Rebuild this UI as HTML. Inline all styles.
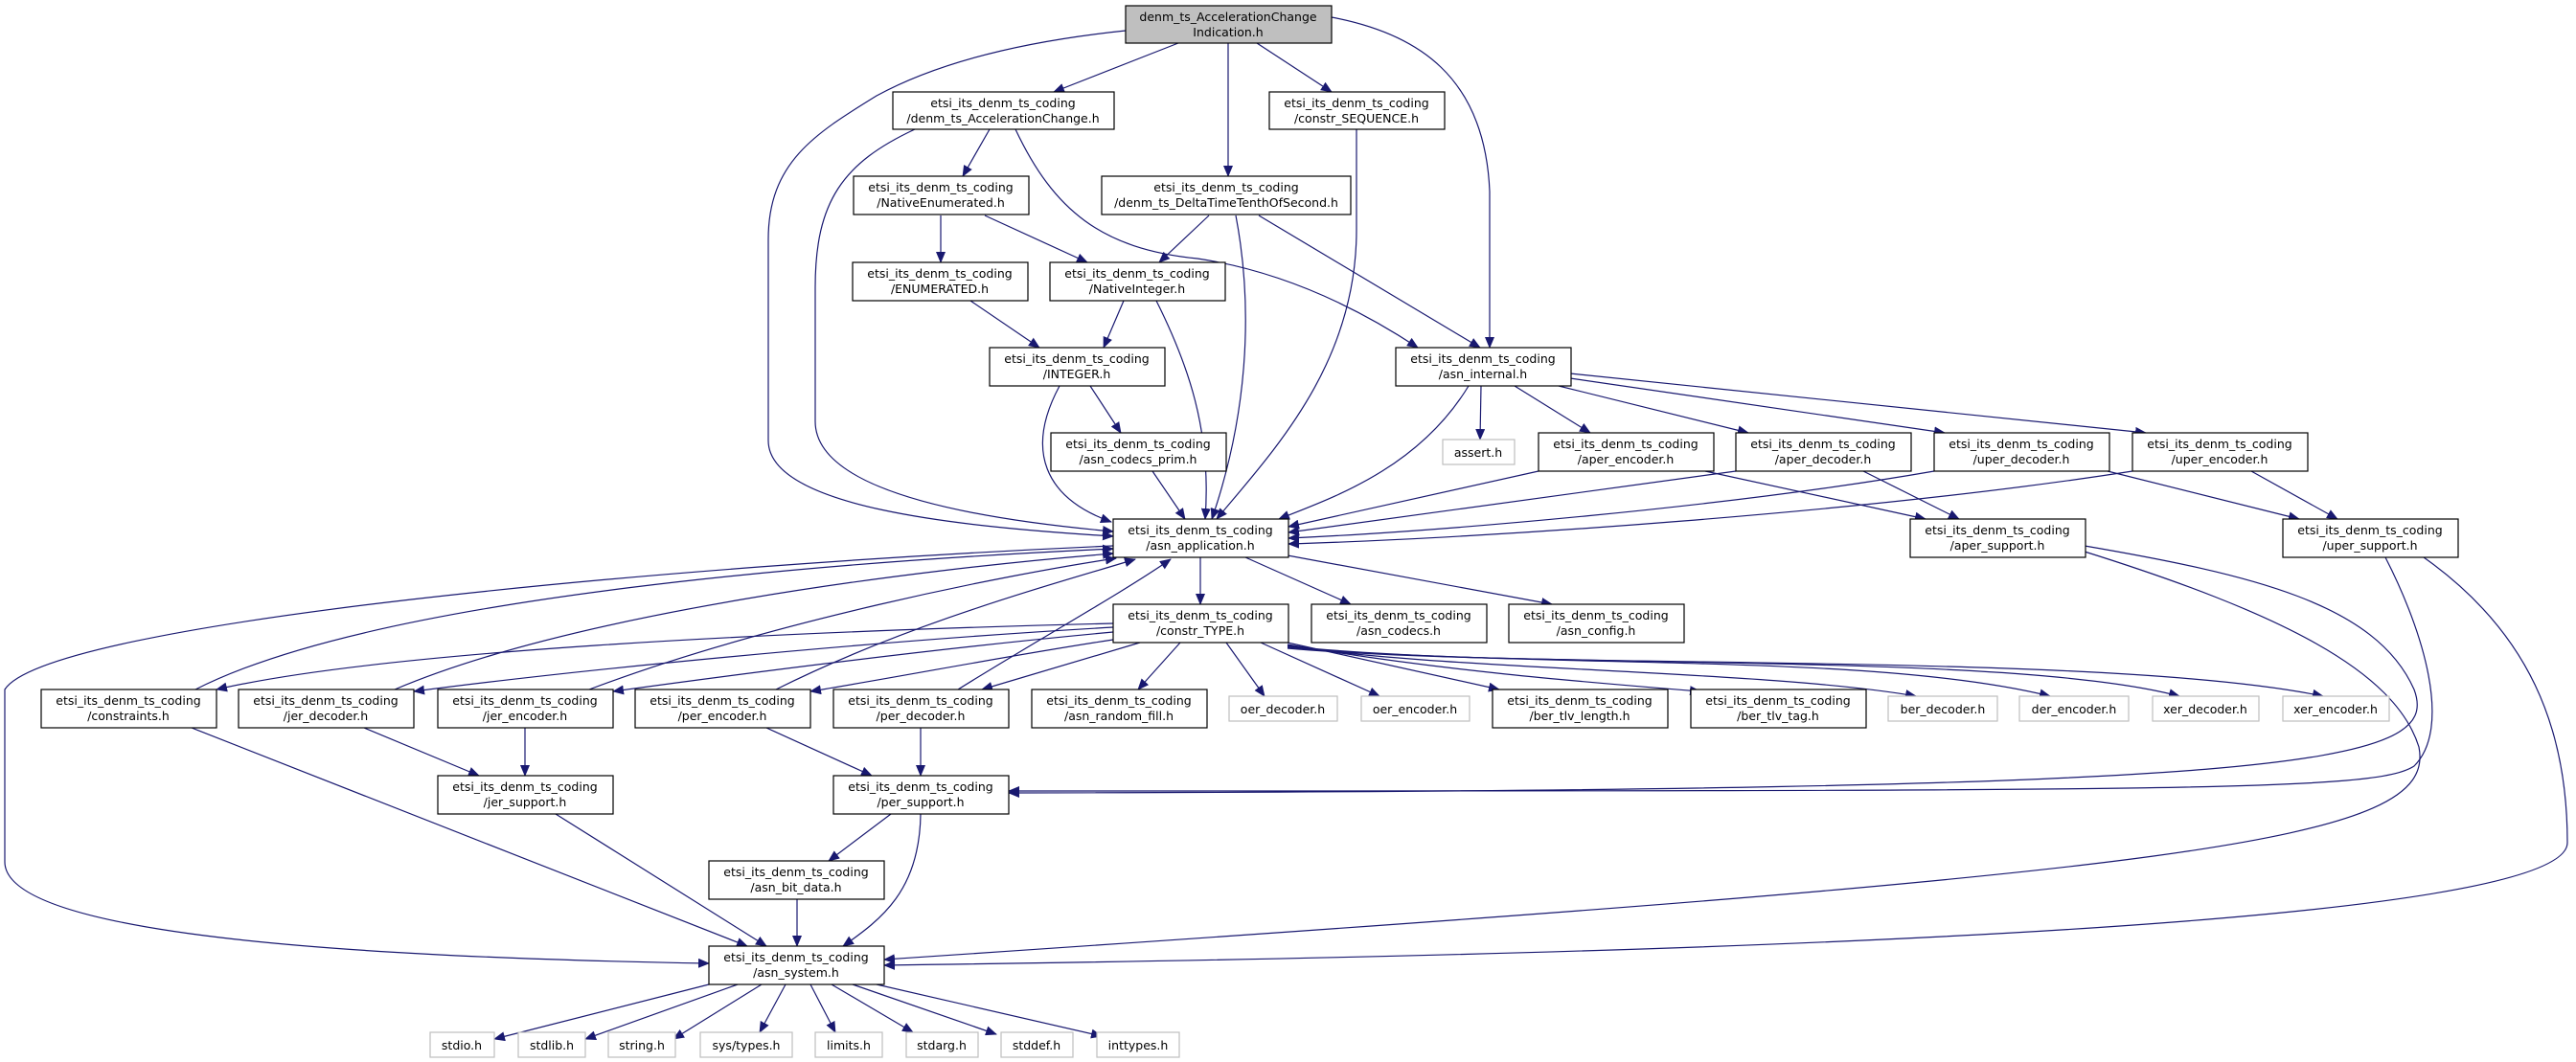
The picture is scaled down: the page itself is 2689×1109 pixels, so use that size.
<!DOCTYPE html>
<html><head><meta charset="utf-8"><style>
html,body{margin:0;padding:0;background:#fff;}
svg{display:block;}
text{font-family:"DejaVu Sans","Liberation Sans",sans-serif;font-size:12.5px;fill:#000;text-anchor:middle;}
.n{fill:#fff;stroke:#000;stroke-width:1.2;}
.g{fill:#fff;stroke:#bfbfbf;stroke-width:1.2;}
.e{fill:none;stroke:#191970;stroke-width:1.2;}
</style></head><body>
<svg width="2689" height="1109" viewBox="0 0 2689 1109" xmlns="http://www.w3.org/2000/svg">
<defs><marker id="a" markerWidth="12" markerHeight="10" refX="11" refY="5" orient="auto" markerUnits="userSpaceOnUse"><path d="M0,0 L12,5 L0,10 z" fill="#191970"/></marker></defs>
<g class="e" marker-end="url(#a)">
<path d="M1230,45 L1100,96"/>
<path d="M1282,45 L1282,184"/>
<path d="M1312,45 L1390,96"/>
<path d="M1390,18 C1480,35 1550,80 1555,200 L1555,363"/>
<path d="M1175,32 C1050,45 970,70 915,100 C850,140 802,170 802,250 L802,460 C802,530 1000,550 1162,560"/>
<path d="M1033,135 L1005,184"/>
<path d="M955,135 C880,170 851,210 851,300 L851,440 C851,520 1050,545 1162,555"/>
<path d="M1060,135 C1100,220 1150,260 1250,270 C1350,285 1430,330 1480,363"/>
<path d="M982,225 L982,274"/>
<path d="M1028,225 L1135,274"/>
<path d="M1262,225 L1210,274"/>
<path d="M1290,225 C1310,330 1300,440 1265,542"/>
<path d="M1314,225 L1545,363"/>
<path d="M1013,314 L1085,363"/>
<path d="M1173,314 L1152,363"/>
<path d="M1207,314 C1240,380 1265,450 1258,542"/>
<path d="M1416,135 L1416,240 C1416,380 1330,470 1270,542"/>
<path d="M1106,403 C1070,470 1090,520 1160,545"/>
<path d="M1138,403 L1170,452"/>
<path d="M1203,492 L1237,542"/>
<path d="M1533,403 C1480,490 1390,520 1335,542"/>
<path d="M1546,403 L1545,459"/>
<path d="M1581,403 L1660,452"/>
<path d="M1627,403 L1825,452"/>
<path d="M1639,395 L2030,452"/>
<path d="M1639,390 L2240,452"/>
<path d="M1606,492 L1345,550"/>
<path d="M1780,492 L2010,542"/>
<path d="M1812,492 L1345,556"/>
<path d="M1945,492 L2045,542"/>
<path d="M2019,492 C1800,530 1500,555 1345,562"/>
<path d="M2200,492 L2400,542"/>
<path d="M2226,492 C1950,535 1550,562 1345,568"/>
<path d="M2350,492 L2440,542"/>
<path d="M2176,570 C2350,600 2480,630 2520,720 C2550,800 2400,826 1053,828"/>
<path d="M2176,576 C2380,640 2500,700 2525,780 C2545,880 2300,910 923,1002"/>
<path d="M2490,582 C2530,660 2560,760 2520,800 C2480,826 2300,826 1053,826"/>
<path d="M2530,582 C2640,660 2680,760 2680,880 C2680,980 1500,1000 923,1008"/>
<path d="M1253,582 L1253,631"/>
<path d="M1300,582 L1410,631"/>
<path d="M1344,580 L1620,631"/>
<path d="M1162,651 C800,660 400,680 226,720"/>
<path d="M1162,655 C900,670 600,700 432,722"/>
<path d="M1162,660 C1000,675 800,700 640,722"/>
<path d="M1162,668 C1050,685 950,705 846,722"/>
<path d="M1190,671 L1025,720"/>
<path d="M1232,671 L1188,720"/>
<path d="M1280,671 L1320,727"/>
<path d="M1316,671 L1440,727"/>
<path d="M1344,671 L1565,720"/>
<path d="M1344,673 C1500,700 1650,712 1775,722"/>
<path d="M1344,674 C1500,700 1850,700 2000,727"/>
<path d="M1344,675 C1600,700 1950,680 2140,727"/>
<path d="M1344,676 C1600,700 2100,680 2275,727"/>
<path d="M1344,677 C1600,700 2200,680 2425,727"/>
<path d="M204,720 C400,620 900,585 1162,573"/>
<path d="M412,720 C600,640 950,595 1162,578"/>
<path d="M615,720 C800,650 1050,600 1165,583"/>
<path d="M810,720 C950,650 1100,610 1185,584"/>
<path d="M1000,720 C1080,670 1170,620 1222,584"/>
<path d="M1162,570 C700,590 50,650 5,720 L5,900 C5,980 400,1000 740,1006"/>
<path d="M200,760 L780,988"/>
<path d="M380,760 L500,810"/>
<path d="M548,760 L548,810"/>
<path d="M580,850 L800,988"/>
<path d="M800,760 L910,810"/>
<path d="M961,760 L961,810"/>
<path d="M930,850 L865,899"/>
<path d="M961,850 C960,930 920,960 880,988"/>
<path d="M832,939 L832,988"/>
<path d="M740,1028 L516,1085"/>
<path d="M770,1028 L611,1085"/>
<path d="M795,1028 L703,1085"/>
<path d="M820,1028 L793,1078"/>
<path d="M846,1028 L872,1078"/>
<path d="M868,1028 L953,1078"/>
<path d="M890,1028 L1040,1080"/>
<path d="M915,1028 L1150,1082"/>
</g>
<rect x="1175" y="6" width="215" height="39" fill="#bfbfbf" stroke="#000" stroke-width="1.2"/>
<text x="1282" y="22">denm_ts_AccelerationChange</text><text x="1282" y="38">Indication.h</text>
<g id="nodes">
<rect class="n" x="932" y="96" width="231" height="39"/><text x="1047" y="112">etsi_its_denm_ts_coding</text><text x="1047" y="128">/denm_ts_AccelerationChange.h</text>
<rect class="n" x="1325" y="96" width="183" height="39"/><text x="1416" y="112">etsi_its_denm_ts_coding</text><text x="1416" y="128">/constr_SEQUENCE.h</text>
<rect class="n" x="891" y="184" width="183" height="40"/><text x="982" y="200">etsi_its_denm_ts_coding</text><text x="982" y="216">/NativeEnumerated.h</text>
<rect class="n" x="1150" y="184" width="260" height="40"/><text x="1280" y="200">etsi_its_denm_ts_coding</text><text x="1280" y="216">/denm_ts_DeltaTimeTenthOfSecond.h</text>
<rect class="n" x="890" y="274" width="183" height="40"/><text x="981" y="290">etsi_its_denm_ts_coding</text><text x="981" y="306">/ENUMERATED.h</text>
<rect class="n" x="1096" y="274" width="183" height="40"/><text x="1187" y="290">etsi_its_denm_ts_coding</text><text x="1187" y="306">/NativeInteger.h</text>
<rect class="n" x="1033" y="363" width="183" height="40"/><text x="1124" y="379">etsi_its_denm_ts_coding</text><text x="1124" y="395">/INTEGER.h</text>
<rect class="n" x="1457" y="363" width="183" height="40"/><text x="1548" y="379">etsi_its_denm_ts_coding</text><text x="1548" y="395">/asn_internal.h</text>
<rect class="n" x="1097" y="452" width="183" height="40"/><text x="1188" y="468">etsi_its_denm_ts_coding</text><text x="1188" y="484">/asn_codecs_prim.h</text>
<rect class="g" x="1506" y="459" width="75" height="26"/><text x="1543" y="477">assert.h</text>
<rect class="n" x="1606" y="452" width="183" height="40"/><text x="1697" y="468">etsi_its_denm_ts_coding</text><text x="1697" y="484">/aper_encoder.h</text>
<rect class="n" x="1812" y="452" width="183" height="40"/><text x="1903" y="468">etsi_its_denm_ts_coding</text><text x="1903" y="484">/aper_decoder.h</text>
<rect class="n" x="2019" y="452" width="183" height="40"/><text x="2110" y="468">etsi_its_denm_ts_coding</text><text x="2110" y="484">/uper_decoder.h</text>
<rect class="n" x="2226" y="452" width="183" height="40"/><text x="2317" y="468">etsi_its_denm_ts_coding</text><text x="2317" y="484">/uper_encoder.h</text>
<rect class="n" x="1162" y="542" width="183" height="40"/><text x="1253" y="558">etsi_its_denm_ts_coding</text><text x="1253" y="574">/asn_application.h</text>
<rect class="n" x="1994" y="542" width="183" height="40"/><text x="2085" y="558">etsi_its_denm_ts_coding</text><text x="2085" y="574">/aper_support.h</text>
<rect class="n" x="2383" y="542" width="183" height="40"/><text x="2474" y="558">etsi_its_denm_ts_coding</text><text x="2474" y="574">/uper_support.h</text>
<rect class="n" x="1162" y="631" width="183" height="40"/><text x="1253" y="647">etsi_its_denm_ts_coding</text><text x="1253" y="663">/constr_TYPE.h</text>
<rect class="n" x="1369" y="631" width="183" height="40"/><text x="1460" y="647">etsi_its_denm_ts_coding</text><text x="1460" y="663">/asn_codecs.h</text>
<rect class="n" x="1575" y="631" width="183" height="40"/><text x="1666" y="647">etsi_its_denm_ts_coding</text><text x="1666" y="663">/asn_config.h</text>
<rect class="n" x="43" y="720" width="183" height="40"/><text x="134" y="736">etsi_its_denm_ts_coding</text><text x="134" y="752">/constraints.h</text>
<rect class="n" x="249" y="720" width="183" height="40"/><text x="340" y="736">etsi_its_denm_ts_coding</text><text x="340" y="752">/jer_decoder.h</text>
<rect class="n" x="457" y="720" width="183" height="40"/><text x="548" y="736">etsi_its_denm_ts_coding</text><text x="548" y="752">/jer_encoder.h</text>
<rect class="n" x="663" y="720" width="183" height="40"/><text x="754" y="736">etsi_its_denm_ts_coding</text><text x="754" y="752">/per_encoder.h</text>
<rect class="n" x="870" y="720" width="183" height="40"/><text x="961" y="736">etsi_its_denm_ts_coding</text><text x="961" y="752">/per_decoder.h</text>
<rect class="n" x="1077" y="720" width="183" height="40"/><text x="1168" y="736">etsi_its_denm_ts_coding</text><text x="1168" y="752">/asn_random_fill.h</text>
<rect class="g" x="1283" y="727" width="113" height="26"/><text x="1339" y="745">oer_decoder.h</text>
<rect class="g" x="1421" y="727" width="113" height="26"/><text x="1477" y="745">oer_encoder.h</text>
<rect class="n" x="1558" y="720" width="183" height="40"/><text x="1649" y="736">etsi_its_denm_ts_coding</text><text x="1649" y="752">/ber_tlv_length.h</text>
<rect class="n" x="1765" y="720" width="183" height="40"/><text x="1856" y="736">etsi_its_denm_ts_coding</text><text x="1856" y="752">/ber_tlv_tag.h</text>
<rect class="g" x="1971" y="727" width="114" height="26"/><text x="2028" y="745">ber_decoder.h</text>
<rect class="g" x="2108" y="727" width="114" height="26"/><text x="2165" y="745">der_encoder.h</text>
<rect class="g" x="2247" y="727" width="111" height="26"/><text x="2302" y="745">xer_decoder.h</text>
<rect class="g" x="2383" y="727" width="111" height="26"/><text x="2438" y="745">xer_encoder.h</text>
<rect class="n" x="457" y="810" width="183" height="40"/><text x="548" y="826">etsi_its_denm_ts_coding</text><text x="548" y="842">/jer_support.h</text>
<rect class="n" x="870" y="810" width="183" height="40"/><text x="961" y="826">etsi_its_denm_ts_coding</text><text x="961" y="842">/per_support.h</text>
<rect class="n" x="740" y="899" width="183" height="40"/><text x="831" y="915">etsi_its_denm_ts_coding</text><text x="831" y="931">/asn_bit_data.h</text>
<rect class="n" x="740" y="988" width="183" height="40"/><text x="831" y="1004">etsi_its_denm_ts_coding</text><text x="831" y="1020">/asn_system.h</text>
<rect class="g" x="449" y="1078" width="67" height="26"/><text x="482" y="1096">stdio.h</text>
<rect class="g" x="541" y="1078" width="70" height="26"/><text x="576" y="1096">stdlib.h</text>
<rect class="g" x="635" y="1078" width="70" height="26"/><text x="670" y="1096">string.h</text>
<rect class="g" x="731" y="1078" width="96" height="26"/><text x="779" y="1096">sys/types.h</text>
<rect class="g" x="851" y="1078" width="70" height="26"/><text x="886" y="1096">limits.h</text>
<rect class="g" x="946" y="1078" width="75" height="26"/><text x="983" y="1096">stdarg.h</text>
<rect class="g" x="1045" y="1078" width="75" height="26"/><text x="1082" y="1096">stddef.h</text>
<rect class="g" x="1145" y="1078" width="86" height="26"/><text x="1188" y="1096">inttypes.h</text>
</g>
</svg>
</body></html>
